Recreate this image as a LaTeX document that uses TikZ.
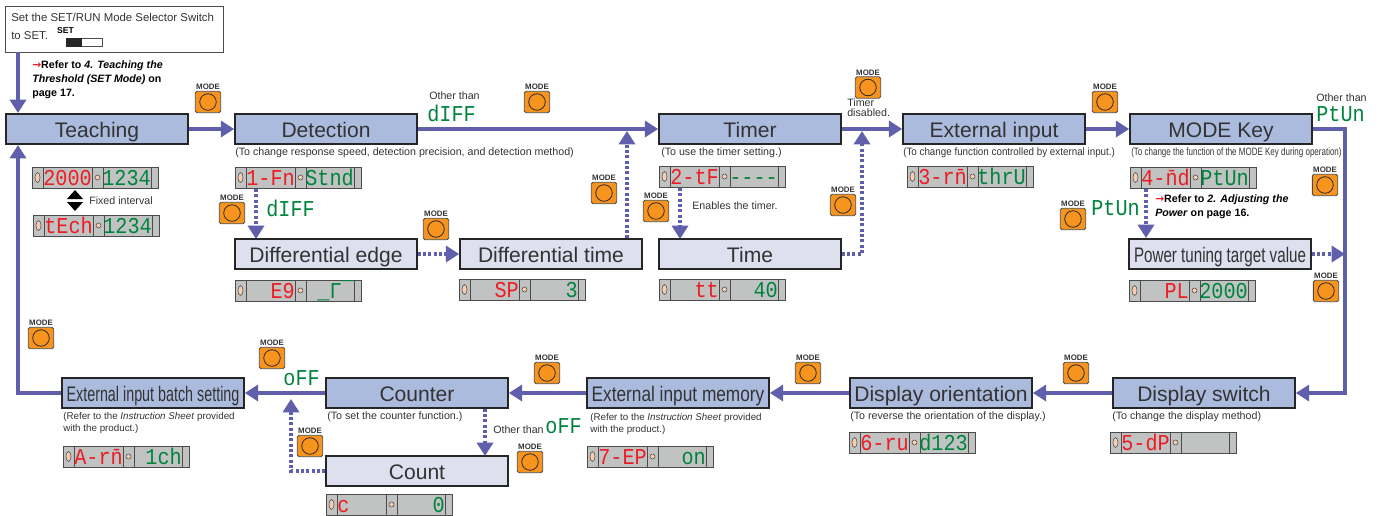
\documentclass[tikz,border=0pt]{standalone}
\usepackage{fontspec}
\setmainfont{Liberation Sans}
\newfontfamily\segfont[FakeStretch=0.89]{Liberation Mono}
\newfontfamily\arrowfont{DejaVu Sans}
\usetikzlibrary{arrows.meta,shapes.geometric}
\definecolor{flowblue}{HTML}{5F5FAB}
\definecolor{boxblue}{HTML}{AABBDD}
\definecolor{boxpale}{HTML}{DEDFEF}
\definecolor{keyorange}{HTML}{F7941E}
\definecolor{panelgray}{HTML}{C1C3C2}
\definecolor{ledpink}{HTML}{F6CDB0}
\definecolor{segred}{HTML}{ED1C24}
\definecolor{seggreen}{HTML}{00843D}
\definecolor{inkgray}{HTML}{333333}
\tikzset{
  mainbox/.style={draw=black!85,line width=1.2pt,fill=boxblue,minimum width=136.5pt,
    inner sep=0pt,text height=17.25pt,text depth=5.25pt,text=inkgray,font=\fontsize{15.8pt}{15.8pt}\selectfont},
  subbox/.style={mainbox,fill=boxpale},
  setbox/.style={draw=black!70,line width=.6pt,minimum width=164pt,minimum height=34.5pt,inner sep=0pt},
  flowline/.style={draw=flowblue,line width=3.2pt,-{Triangle[length=10pt,width=12pt]}},
  dotline/.style={flowline,dash pattern=on 2.2pt off 1.8pt},
  modebtn/.style={draw=black!70,line width=.6pt,fill=keyorange,rounded corners=1.2pt,minimum width=19pt,minimum height=16pt,
    inner sep=0pt,label={[modelabel]above:MODE},
    path picture={\draw[line width=.6pt,black!85] (path picture bounding box.center) circle (6.2pt);}},
  modelabel/.style={font=\bfseries\fontsize{5.9pt}{5.9pt}\selectfont,inner sep=0pt,yshift=.8pt,text=inkgray},
  dispbox/.style={draw=black!70,line width=.7pt,fill=panelgray,anchor=north west,minimum width=94.5pt,minimum height=15.75pt,inner sep=0pt},
  segtext/.style={font=\segfont\fontsize{17pt}{17pt}\selectfont,inner sep=0pt,text height=11.4pt,text depth=0pt},
  redseg/.style={segtext,text=segred,anchor=east},
  greenseg/.style={segtext,text=seggreen,anchor=east},
  ledmark/.style={draw=black!70,line width=.4pt,fill=ledpink,inner sep=0pt},
  smalltext/.style={font=\fontsize{8pt}{9pt}\selectfont,text=inkgray,inner sep=0pt,anchor=west,align=left},
  notetext/.style={font=\bfseries\fontsize{8pt}{10.4pt}\selectfont,text=black,inner sep=0pt,anchor=west,align=left},
}
\newcommand{\notemark}{{\arrowfont\textcolor{segred}{→}}}
\newcommand{\dispunit}[5]{
  \node[dispbox] (#1) at (#2,#3) {};
  \begin{scope}[shift={(#2,#3)}]
    \draw[black!70,line width=.7pt] (11,0) -- (11,21) (60,0) -- (60,21) (71,0) -- (71,21) (119,0) -- (119,21);
    \node[ledmark,ellipse,minimum width=3.8pt,minimum height=7.4pt] (#1oval) at (5.5,10.5) {};
    \node[ledmark,circle,minimum size=3.8pt] (#1dot) at (65.5,10.5) {};
    \node[redseg] (#1red) at (60,10.5) {#4};
    \node[greenseg] (#1green) at (119,10.5) {#5};
  \end{scope}
}
\begin{document}
\begin{tikzpicture}[x=.75pt,y=-.75pt]
  \useasboundingbox (0,0) rectangle (1381,515);
  \draw
    (97,129) node[mainbox] (teaching){Teaching}
    (326,129) node[mainbox] (detection){Detection}
    (750,129) node[mainbox] (timer){Timer}
    (994,129) node[mainbox] (extinput){External input}
    (1221,129) node[mainbox] (modekey){MODE Key}
    (326,254) node[subbox] (diffedge){Differential edge}
    (551,254) node[subbox] (difftime){Differential time}
    (750,254) node[subbox] (time){Time}
    (1220,254) node[subbox] (powertune){\scalebox{.72}[1]{Power tuning target value}}
    (1204,393) node[mainbox] (dispswitch){Display switch}
    (941,393) node[mainbox] (disporient){Display orientation}
    (678,393) node[mainbox] (extmemory){\scalebox{.82}[1]{External input memory}}
    (417,393) node[mainbox] (counter){Counter}
    (153,393) node[mainbox] (extbatch){\scalebox{.68}[1]{External input batch setting}}
    (417,471) node[subbox] (count){Count};
  \node[setbox] (setmode) at (114.5,29) {};
  \node[smalltext,font=\fontsize{8.55pt}{12.9pt}\selectfont] (settext) at (11,26.5) {Set the SET/RUN Mode Selector Switch\\to SET.};
  \node[font=\bfseries\fontsize{6.4pt}{6.4pt}\selectfont,inner sep=0pt] (setlabel) at (65.5,31) {SET};
  \node[draw=black!70,line width=.5pt,minimum width=27pt,minimum height=6.4pt,inner sep=0pt] (setslider) at (84,42.5) {};
  \fill[black!85] (setslider.north west) rectangle (82,47);
  % mode keys
  \draw
    (208,102) node[modebtn] (key1){}
    (232,213) node[modebtn] (key2){}
    (436,229) node[modebtn] (key3){}
    (604,193) node[modebtn] (key4){}
    (656,211) node[modebtn] (key5){}
    (537,102) node[modebtn] (key6){}
    (868,87.5) node[modebtn] (key7){}
    (843,205) node[modebtn] (key8){}
    (1105,102) node[modebtn] (key9){}
    (1325,185) node[modebtn] (key10){}
    (1073,219) node[modebtn] (key11){}
    (1326,291) node[modebtn] (key12){}
    (1076,373) node[modebtn] (key13){}
    (808,373) node[modebtn] (key14){}
    (547,373) node[modebtn] (key15){}
    (272,358) node[modebtn] (key16){}
    (310,446) node[modebtn] (key17){}
    (530,462) node[modebtn] (key18){}
    (41,338) node[modebtn] (key19){};
  % display panels
  \dispunit{dispa}{32}{167}{2000}{1234}
  \dispunit{dispb}{33}{215}{tEch}{1234}
  \dispunit{dispc}{235}{167}{1-Fn}{Stnd}
  \dispunit{dispd}{235}{280}{E9}{\_\char"0393\char"00AF}
  \dispunit{dispe}{459}{279}{SP}{3}
  \dispunit{dispf}{659}{166}{2-tF}{----}
  \dispunit{dispg}{659}{279}{tt}{40}
  \dispunit{disph}{907}{166}{3-r\=n}{thrU}
  \dispunit{dispi}{1130}{167}{4-\=nd}{PtUn}
  \dispunit{dispj}{1129}{280}{PL}{2000}
  \dispunit{dispk}{1110}{432}{5-dP}{}
  \dispunit{displ}{849}{432}{6-ru}{d123}
  \dispunit{dispm}{587}{446}{7-EP}{on}
  \dispunit{dispn}{326}{494}{c\phantom{000}}{0}
  \dispunit{dispo}{63}{446}{A-r\=n}{1ch}
  % flow
  \coordinate (teachin) at (18,113);
  \coordinate (teachback) at (18,145);
  \coordinate (timerjoin) at (627,131);
  \coordinate (timejoin) at (862,131);
  \coordinate (rightturn) at (1345,393);
  \coordinate (countjoin) at (291,399);
  \coordinate (detectdrop) at (256,239);
  \coordinate (timerdrop) at (680,239);
  \coordinate (modedrop) at (1146,238);
  \coordinate (counterdrop) at (485,456);
  \begin{scope}[flowline]
    \draw (teachin |- setmode.south) to (teachin);
    \draw (teaching) to (detection);
    \draw (detection) to (timer);
    \draw (timer) to (extinput);
    \draw (extinput) to (modekey);
    \draw (modekey.east) -| (rightturn) to (dispswitch.east);
    \draw (dispswitch) to (disporient);
    \draw (disporient) to (extmemory);
    \draw (extmemory) to (counter);
    \draw (counter) to (extbatch);
    \draw (extbatch.west) -| (teachback);
  \end{scope}
  \begin{scope}[dotline]
    \draw (detectdrop |- dispc.south) to (detectdrop);
    \draw (diffedge) to (difftime);
    \draw (timerjoin |- difftime.north) to (timerjoin);
    \draw (timerdrop |- dispf.south) to (timerdrop);
    \draw (time.east) -| (timejoin);
    \draw (modedrop |- dispi.south) to (modedrop);
    \draw (powertune.east) to (powertune.east -| rightturn);
    \draw (counterdrop |- counter.south) to (counterdrop);
    \draw (count.west) -| (countjoin);
  \end{scope}
  % fixed interval mark
  \fill[black] (75,190) -- (83,199) -- (67,199) -- cycle (75,211) -- (83,202) -- (67,202) -- cycle;
  % texts
  \draw
    (32,80) node[notetext] (notea){\notemark Refer to \textit{4. Teaching the}\\\textit{Threshold (SET Mode)} on\\page 17.}
    (1155,207) node[notetext] (noteb){\notemark Refer to \textit{2. Adjusting the}\\\textit{Power} on page 16.}
    (89,201) node[smalltext] (fixedtext){Fixed interval}
    (692,206) node[smalltext] (enabletext){Enables the timer.}
    (429,96) node[smalltext] (othera){Other than}
    (1316,98) node[smalltext] (otherb){Other than}
    (493,430) node[smalltext] (otherc){Other than}
    (847,108) node[smalltext,font=\fontsize{8pt}{7.6pt}\selectfont] (timeroff){Timer\\disabled.}
    (235,153) node[smalltext] (subdetect){(To change response speed, detection precision, and detection method)}
    (661,153) node[smalltext] (subtimer){(To use the timer setting.)}
    (903,153) node[smalltext] (subext){\scalebox{.92}[1]{(To change function controlled by external input.)}}
    (1131,153) node[smalltext] (submode){\scalebox{.75}[1]{(To change the function of the MODE Key during operation)}}
    (1112,417) node[smalltext] (subswitch){(To change the display method)}
    (850,417) node[smalltext] (suborient){(To reverse the orientation of the display.)}
    (590,424) node[smalltext,font=\fontsize{7.35pt}{9pt}\selectfont] (submemory){(Refer to the \textit{Instruction Sheet} provided\\with the product.)}
    (327,417) node[smalltext] (subcounter){(To set the counter function.)}
    (63,423) node[smalltext,font=\fontsize{7.35pt}{9pt}\selectfont] (subbatch){(Refer to the \textit{Instruction Sheet} provided\\with the product.)};
  \draw
    (476,113.5) node[greenseg] (segdiffa){dIFF}
    (315,209) node[greenseg] (segdiffb){dIFF}
    (1365,113.5) node[greenseg] (segptuna){PtUn}
    (1140,207.5) node[greenseg] (segptunb){PtUn}
    (320,378) node[greenseg] (segoffa){oFF}
    (582,426) node[greenseg] (segoffb){oFF};
\end{tikzpicture}
\end{document}
